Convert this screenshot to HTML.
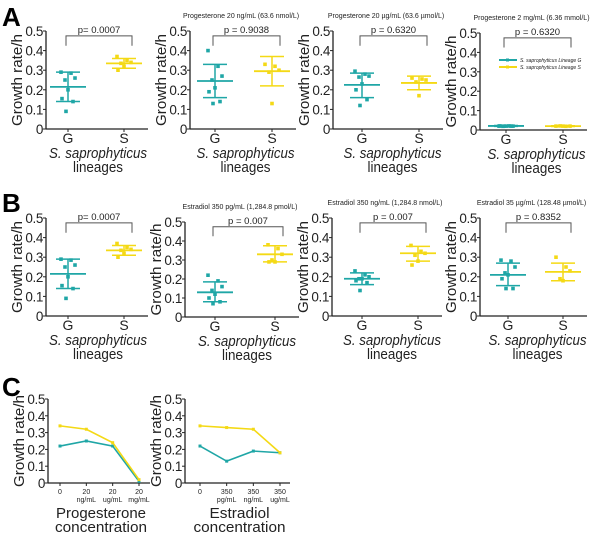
<!DOCTYPE html>
<html><head><meta charset="utf-8"><style>
body{margin:0;background:#fff}
svg{display:block;font-family:"Liberation Sans",sans-serif}
</style></head><body>
<svg id="c" width="600" height="533" viewBox="0 0 600 533" xmlns="http://www.w3.org/2000/svg"></svg>
<script>
const TEAL='#1fa6a6', YEL='#f4d915';
const yTicks=[0,0.1,0.2,0.3,0.4,0.5];
const yTickLabels=['0','0.1','0.2','0.3','0.4','0.5'];
const groupLabels=['G','S'];
// panel scatter data
const a1G=[0.29,0.285,0.26,0.25,0.2,0.155,0.14,0.09], a1S=[0.37,0.35,0.34,0.335,0.32,0.30];
const a1Gstat=[0.215,0.29,0.14], a1Sstat=[0.335,0.36,0.31];
const a2G=[0.40,0.32,0.27,0.25,0.21,0.19,0.14,0.13], a2S=[0.33,0.32,0.30,0.29,0.13];
const a2Gstat=[0.245,0.33,0.16], a2Sstat=[0.295,0.37,0.22];
const a3G=[0.295,0.28,0.27,0.265,0.23,0.20,0.15,0.12], a3S=[0.26,0.255,0.25,0.24,0.17];
const a3Gstat=[0.225,0.285,0.16], a3Sstat=[0.235,0.27,0.20];
const a4G=[0.02,0.021,0.02,0.019,0.02,0.021,0.02,0.02], a4S=[0.02,0.019,0.02,0.021,0.02];
const a4Gstat=[0.021,0.023,0.019], a4Sstat=[0.02,0.022,0.018];
const b2G=[0.22,0.19,0.16,0.14,0.12,0.10,0.08,0.07], b2S=[0.38,0.36,0.33,0.30,0.29,0.29];
const b2Gstat=[0.13,0.185,0.08], b2Sstat=[0.33,0.375,0.29];
const b3G=[0.23,0.21,0.20,0.19,0.19,0.18,0.17,0.13], b3S=[0.36,0.33,0.32,0.31,0.28,0.26];
const b3Gstat=[0.19,0.22,0.16], b3Sstat=[0.32,0.355,0.28];
const b4G=[0.285,0.28,0.25,0.22,0.21,0.19,0.14,0.14], b4S=[0.30,0.25,0.23,0.19,0.18];
const b4Gstat=[0.21,0.27,0.155], b4Sstat=[0.225,0.27,0.18];
// panel C
const progCats=[['0',''],['20','ng/mL'],['20','ug/mL'],['20','mg/mL']];
const progS=[0.34,0.32,0.24,0.02], progG=[0.22,0.25,0.22,0.01];
const estCats=[['0',''],['350','pg/mL'],['350','ng/mL'],['350','ug/mL']];
const estS=[0.34,0.33,0.32,0.18], estG=[0.22,0.13,0.19,0.18];

const svg=document.getElementById('c');
const NS='http://www.w3.org/2000/svg';
function el(t,a,p,txt){const e=document.createElementNS(NS,t);for(const k in a)e.setAttribute(k,a[k]);if(txt!==undefined)e.textContent=txt;(p||svg).appendChild(e);return e;}

function axes(g,ax,right,top,bot,ylab){
  const y=v=>bot-(bot-top)*v/0.5;
  const l=el('line',{x1:ax,y1:top,x2:ax,y2:bot,stroke:'#222','stroke-width':1.3},g);
  
  const lx=el('line',{x1:ax,y1:bot,x2:right,y2:bot,stroke:'#222','stroke-width':1.3},g);
  
  yTicks.forEach((v,i)=>{
    el('line',{x1:ax-3,y1:y(v),x2:ax,y2:y(v),stroke:'#222'},g);
    const t=el('text',{x:ax-3,y:y(v)+5,'text-anchor':'end','font-size':13.5,'letter-spacing':-0.4,fill:'#222'},g,yTickLabels[i]);
    
  });
  if(ylab){const t=el('text',{x:0,y:0,transform:`translate(${ax-24},${(top+bot)/2}) rotate(-90)`,'text-anchor':'middle','font-size':15,textLength:92,lengthAdjust:'spacingAndGlyphs',fill:'#222'},g,'Growth rate/h');
  }
  return y;
}

function scatterPlot(name,ax,gx,sx,top,bot,G,S,Gs,Ss,title,p){
  const g=el('g',{},svg);
  const right=sx+24;
  const y=axes(g,ax,right,top,bot,true);
  [[gx,G,Gs,TEAL,'group-g'],[sx,S,Ss,YEL,'group-s']].forEach(([cx,pts,st,col,nm],k)=>{
    el('line',{x1:cx,y1:bot,x2:cx,y2:bot+3,stroke:'#222'},g);
    const tl=el('text',{x:cx,y:bot+14,'text-anchor':'middle','font-size':14,fill:'#222'},g,groupLabels[k]);
    
    const sg=el('g',{},g);
    el('line',{x1:cx,y1:y(st[1]),x2:cx,y2:y(st[2]),stroke:col,'stroke-width':1.5},sg);
    el('line',{x1:cx-18,y1:y(st[0]),x2:cx+18,y2:y(st[0]),stroke:col,'stroke-width':1.8},sg);
    el('line',{x1:cx-12,y1:y(st[1]),x2:cx+12,y2:y(st[1]),stroke:col,'stroke-width':1.5},sg);
    el('line',{x1:cx-12,y1:y(st[2]),x2:cx+12,y2:y(st[2]),stroke:col,'stroke-width':1.5},sg);
    pts.forEach((v,i)=>{const off=[-7,3,7,-3,0,-6,5,-2][i%8];
      const c=el('rect',{x:cx+off-1.8,y:y(v)-1.8,width:3.6,height:3.6,fill:col},sg);
      });
  });
  const bt=y(0.475),bb=y(0.425);
  const br=el('path',{d:`M${gx-2} ${bb}V${bt}H${sx+8}V${bb}`,fill:'none',stroke:'#555','stroke-width':1},g);
  
  const pt=el('text',{x:(gx+sx+6)/2,y:bt-3,'text-anchor':'middle','font-size':9.5,fill:'#222'},g,p);
  
  if(title){const tt=el('text',{x:(ax+right)/2-2,y:top-13,'text-anchor':'middle','font-size':7,fill:'#222'},g,title);
    }
  const x1=el('text',{x:(gx+sx)/2+2,y:bot+29,'text-anchor':'middle','font-size':15,'font-style':'italic',textLength:98,lengthAdjust:'spacingAndGlyphs',fill:'#222'},g,'S. saprophyticus');
  
  el('text',{x:(gx+sx)/2+2,y:bot+43,'text-anchor':'middle','font-size':15,textLength:50,lengthAdjust:'spacingAndGlyphs',fill:'#222'},g,'lineages');
}

function letter(t,x,y){const e=el('text',{x:x,y:y,'font-size':26,'font-weight':'bold',fill:'#000'},svg,t);
  }

letter('A',2,26);letter('B',2,212);letter('C',2,396);
scatterPlot('plot-a1',46,68,124,31,129,a1G,a1S,a1Gstat,a1Sstat,'','p= 0.0007');
scatterPlot('plot-a2',190,215,272,31,129,a2G,a2S,a2Gstat,a2Sstat,'Progesterone 20 ng/mL (63.6 nmol/L)','p = 0.9038');
scatterPlot('plot-a3',333,362,419,31,129,a3G,a3S,a3Gstat,a3Sstat,'Progesterone 20 µg/mL (63.6 µmol/L)','p = 0.6320');
scatterPlot('plot-a4',480,506,563,33,130,a4G,a4S,a4Gstat,a4Sstat,'Progesterone 2 mg/mL (6.36 mmol/L)','p = 0.6320');
scatterPlot('plot-b1',46,68,124,218,316,a1G,a1S,a1Gstat,a1Sstat,'','p= 0.0007');
scatterPlot('plot-b2',185,215,275,222,317,b2G,b2S,b2Gstat,b2Sstat,'Estradiol 350 pg/mL (1,284.8 pmol/L)','p = 0.007');
scatterPlot('plot-b3',332,362,418,218,316,b3G,b3S,b3Gstat,b3Sstat,'Estradiol 350 ng/mL (1,284.8 nmol/L)','p = 0.007');
scatterPlot('plot-b4',480,508,563,218,316,b4G,b4S,b4Gstat,b4Sstat,'Estradiol 35 µg/mL (128.48 µmol/L)','p = 0.8352');

// legend in A4
const lg=el('g',{},svg);
[[TEAL,'S. saprophyticus Lineage G',60],[YEL,'S. saprophyticus Lineage S',67]].forEach(([c,t,yy])=>{
  const e=el('g',{},lg);
  el('line',{x1:499,y1:yy,x2:517,y2:yy,stroke:c,'stroke-width':2},e);
  el('rect',{x:506,y:yy-1.5,width:3,height:3,fill:c},e);
  el('text',{x:520,y:yy+2,'font-size':5,fill:'#222','font-style':'italic'},e,t);
});

function linePlot(name,ax,right,cx,top,bot,cats,S,G,lab1,w1){
  const g=el('g',{},svg);
  const y=axes(g,ax,right,top,bot,true);
  const x=i=>cx[0]+(cx[1]-cx[0])*i/(cats.length-1);
  cats.forEach((c,i)=>{
    el('line',{x1:x(i),y1:bot,x2:x(i),y2:bot+3,stroke:'#222'},g);
    const t=el('text',{x:x(i),y:bot+11,'text-anchor':'middle','font-size':7,fill:'#222'},g,c[0]);
    
    el('text',{x:x(i),y:bot+19,'text-anchor':'middle','font-size':7,fill:'#222'},g,c[1]);
  });
  [[G,TEAL,'series-g'],[S,YEL,'series-s']].forEach(([d,col,nm])=>{
    const pl=el('polyline',{points:d.map((v,i)=>x(i)+','+y(v)).join(' '),fill:'none',stroke:col,'stroke-width':1.6},g);
    
    d.forEach((v,i)=>{const m=el('rect',{x:x(i)-1.5,y:y(v)-1.5,width:3,height:3,fill:col},g);
      });
  });
  const t1=el('text',{x:(ax+right)/2+2,y:bot+35,'text-anchor':'middle','font-size':15,textLength:w1,lengthAdjust:'spacingAndGlyphs',fill:'#222'},g,lab1);
  
  el('text',{x:(ax+right)/2+2,y:bot+49,'text-anchor':'middle','font-size':15,textLength:92,lengthAdjust:'spacingAndGlyphs',fill:'#222'},g,'concentration');
}
linePlot('plot-c1',48,150,[60,139],399,483,progCats,progS,progG,'Progesterone',90);
linePlot('plot-c2',185,290,[200,280],399,483,estCats,estS,estG,'Estradiol',60);
</script>
</body></html>
